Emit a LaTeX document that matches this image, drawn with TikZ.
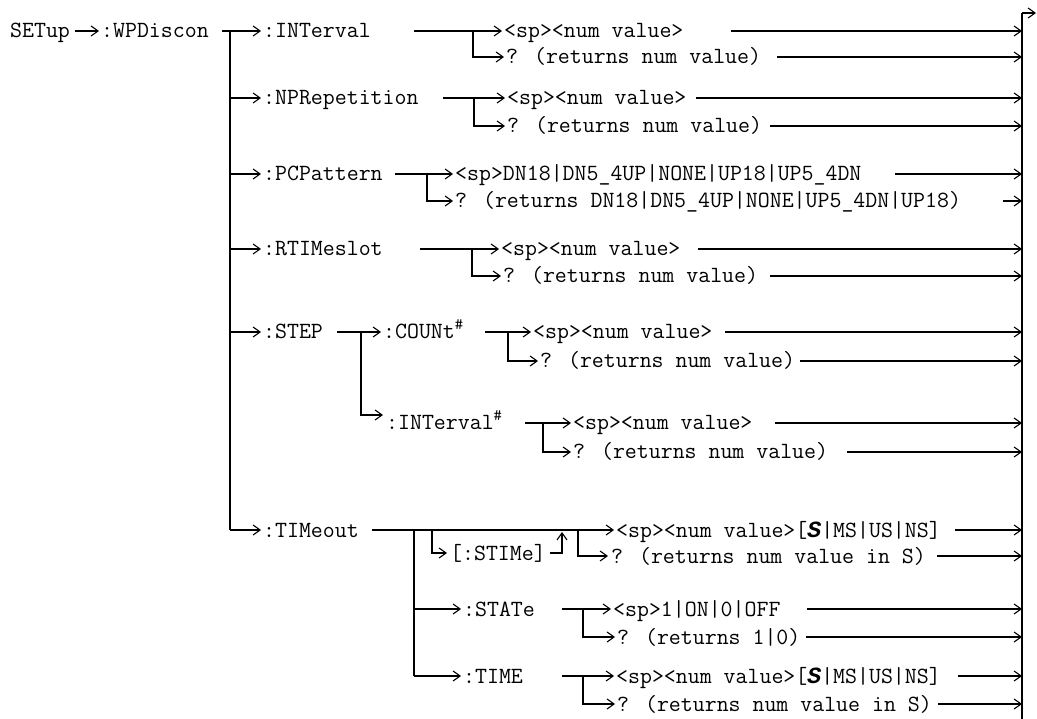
\documentclass[tikz,border=0pt]{standalone}
\usepackage{fontspec}
\newfontfamily\lmono{Liberation Mono}
\usetikzlibrary{arrows.meta}
\begin{document}
\begin{tikzpicture}[x=1pt,y=-1pt,
  txt/.style={anchor=west, inner sep=0pt, text height=17pt, text depth=3pt,
    font=\fontsize{23.2}{26}\selectfont\ttfamily},
  ln/.style={line width=1.1pt},
  arr/.style={ln, -{Straight Barb[length=7pt,width=10pt]}},
]
\useasboundingbox (0,0) rectangle (1037,719);
% right collecting bar
\coordinate (rt) at (1022,13);
\coordinate (rb) at (1022,719);
\coordinate (out) at (1036,13);
\draw[ln] (rt) -- (rb);
\draw[arr] (rt) -- (out);

% root
\node[txt] (setup) at (10,31) {SETup};
\node[txt] (wpd) at (101,31) {:WPDiscon};
\draw[arr] ([xshift=5pt]setup.east) -- ([xshift=-2pt]wpd.west);

% level 1
\node[txt] (int1)  at (263,31)  {:INTerval};
\node[txt] (nprep) at (263,98)  {:NPRepetition};
\node[txt] (pcp)   at (263,174) {:PCPattern};
\node[txt] (rtim)  at (263,249) {:RTIMeslot};
\node[txt] (step)  at (263,332) {:STEP};
\node[txt] (tout)  at (263,530) {:TIMeout};
\coordinate (mb) at (230,31);
\coordinate (mbe) at (230,530);
\draw[ln] (mb) -- (mbe);
\draw[arr] ([xshift=13pt]wpd.east) -- ([xshift=-2pt]int1.west);
\draw[arr] (mb |- nprep.west) -- ([xshift=-2pt]nprep.west);
\draw[arr] (mb |- pcp.west) -- ([xshift=-2pt]pcp.west);
\draw[arr] (mb |- rtim.west) -- ([xshift=-2pt]rtim.west);
\draw[arr] (mb |- step.west) -- ([xshift=-2pt]step.west);
\draw[arr] (mbe) -- ([xshift=-2pt]tout.west);

% INTerval
\node[txt] (sp1) at (504,31) {<sp><num value>};
\node[txt] (q1)  at (506,57) {? (returns num value)};
\draw[arr] (414,31) -- ([xshift=-2pt]sp1.west);
\draw[arr] (473,31) -- (473,57) -- ([xshift=-2pt]q1.west);
\draw[arr] (731,31) -- (rt |- sp1.west);
\draw[arr] (777,57) -- (rt |- q1.west);

% NPRepetition
\node[txt] (sp2) at (507,98)  {<sp><num value>};
\node[txt] (q2)  at (507,126) {? (returns num value)};
\draw[arr] (443,98) -- ([xshift=-2pt]sp2.west);
\draw[arr] (474,98) -- (474,126) -- ([xshift=-2pt]q2.west);
\draw[arr] (696,98) -- (rt |- sp2.west);
\draw[arr] (770,126) -- (rt |- q2.west);

% PCPattern
\node[txt] (sp3) at (455,174) {<sp>DN18|DN5\_4UP|NONE|UP18|UP5\_4DN};
\node[txt] (q3)  at (455,201) {? (returns DN18|DN5\_4UP|NONE|UP5\_4DN|UP18)};
\draw[arr] (395,174) -- ([xshift=-2pt]sp3.west);
\draw[arr] (427,174) -- (427,201) -- ([xshift=-2pt]q3.west);
\draw[arr] (895,174) -- (rt |- sp3.west);
\draw[arr] (1003,201) -- (rt |- q3.west);

% RTIMeslot
\node[txt] (sp4) at (501,249) {<sp><num value>};
\node[txt] (q4)  at (503,276) {? (returns num value)};
\draw[arr] (420,249) -- ([xshift=-2pt]sp4.west);
\draw[arr] (472,249) -- (472,276) -- ([xshift=-2pt]q4.west);
\draw[arr] (698,249) -- (rt |- sp4.west);
\draw[arr] (770,276) -- (rt |- q4.west);

% STEP
\node[txt] (count) at (383,332) {:COUNt\textsuperscript{\#}};
\node[txt] (int2)  at (386,423) {:INTerval\textsuperscript{\#}};
\draw[arr] (337,332) -- ([xshift=-2pt]count.west);
\draw[arr] (361,332) -- (361,415) -- ([xshift=-3pt]int2.west |- 0,415);

\node[txt] (sp5) at (533,332) {<sp><num value>};
\node[txt] (q5)  at (540,361) {? (returns num value)};
\draw[arr] (485,332) -- ([xshift=-2pt]sp5.west);
\draw[arr] (508,332) -- (508,361) -- ([xshift=-2pt]q5.west);
\draw[arr] (725,332) -- (rt |- sp5.west);
\draw[arr] (800,361) -- (rt |- q5.west);

\node[txt] (sp6) at (573,423) {<sp><num value>};
\node[txt] (q6)  at (573,452) {? (returns num value)};
\draw[arr] (525,423) -- ([xshift=-2pt]sp6.west);
\draw[arr] (543,423) -- (543,452) -- ([xshift=-2pt]q6.west);
\draw[arr] (775,423) -- (rt |- sp6.west);
\draw[arr] (847,452) -- (rt |- q6.west);

% TIMeout
\node[txt] (sp7)   at (616,530) {<sp><num value>[{\lmono\bfseries\itshape S}|MS|US|NS]};
\node[txt] (stime) at (450,553) {[:STIMe]};
\node[txt] (q7)    at (611,556) {? (returns num value in S)};
\node[txt] (state) at (463,609) {:STATe};
\node[txt] (time)  at (463,676) {:TIME};
\draw[arr] (372,530) -- ([xshift=-2pt]sp7.west);
\draw[ln] (414,530) -- (414,676);
\draw[arr] (432,530) -- (432,553) -- ([xshift=-3pt]stime.west);
\draw[arr] ([xshift=4pt]stime.east) -- (562,553) -- (562,532);
\draw[arr] (578,530) -- (578,556) -- ([xshift=-3pt]q7.west);
\draw[arr] (955,530) -- (rt |- sp7.west);
\draw[arr] (937,556) -- (rt |- q7.west);
\draw[arr] (414,609) -- ([xshift=-2pt]state.west);
\draw[arr] (414,676) -- ([xshift=-2pt]time.west);

% STATe
\node[txt] (sp8) at (613,609) {<sp>1|ON|0|OFF};
\node[txt] (q8)  at (617,637) {? (returns 1|0)};
\draw[arr] (562,609) -- ([xshift=-2pt]sp8.west);
\draw[arr] (583,609) -- (583,637) -- ([xshift=-2pt]q8.west);
\draw[arr] (807,609) -- (rt |- sp8.west);
\draw[arr] (806,637) -- (rt |- q8.west);

% TIME
\node[txt] (sp9) at (616,676) {<sp><num value>[{\lmono\bfseries\itshape S}|MS|US|NS]};
\node[txt] (q9)  at (617,704) {? (returns num value in S)};
\draw[arr] (562,676) -- ([xshift=-2pt]sp9.west);
\draw[arr] (583,676) -- (583,704) -- ([xshift=-2pt]q9.west);
\draw[arr] (958,676) -- (rt |- sp9.west);
\draw[arr] (938,704) -- (rt |- q9.west);
\end{tikzpicture}
\end{document}
